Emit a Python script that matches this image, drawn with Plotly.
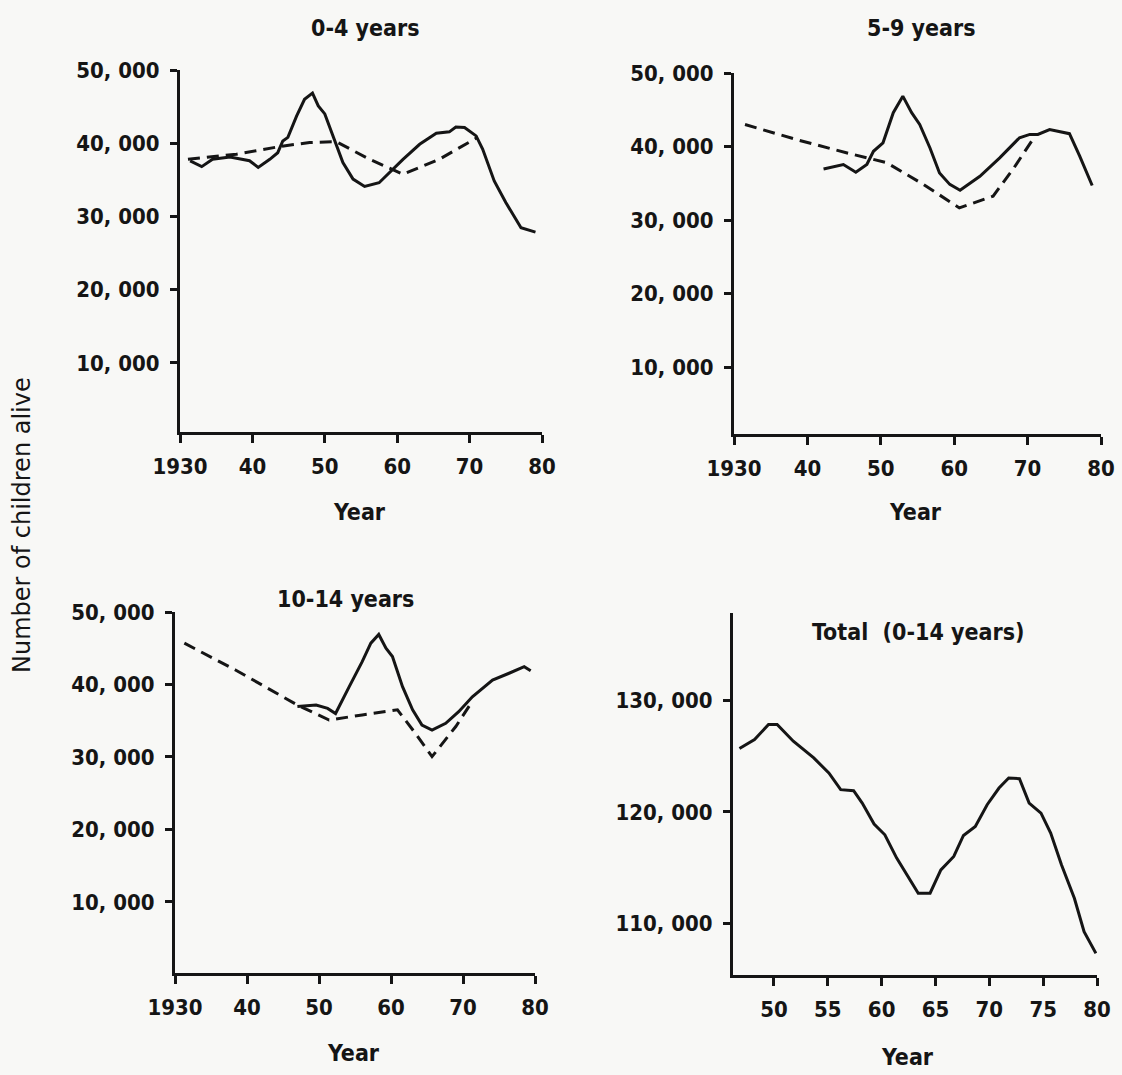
import plotly.graph_objects as go

# ---------------- data ----------------
# Panel 1: 0-4 years
yr_04_solid = [1931.4, 1933.0, 1934.5, 1936.9, 1939.6, 1940.8, 1942.4, 1943.5, 1944.2, 1944.9,
               1946.1, 1947.2, 1948.3, 1949.1, 1950.0, 1951.1, 1952.5, 1953.9, 1955.5, 1957.5,
               1958.9, 1960.8, 1963.1, 1965.4, 1967.2, 1968.1, 1969.3, 1970.9, 1971.8, 1973.4,
               1975.0, 1977.1, 1979.1]
val_04_solid = [37575, 36800, 37800, 38100, 37600, 36700, 37800, 38700, 40300, 40800,
                43700, 46000, 46850, 45100, 44000, 41000, 37350, 35100, 34100, 34600,
                36000, 37800, 39850, 41350, 41550, 42200, 42150, 41000, 39200, 34850,
                31900, 28450, 27850]
yr_04_dash = [1931.1, 1937.8, 1943.8, 1947.9, 1951.6, 1956.2, 1960.8, 1965.8, 1971.1]
val_04_dash = [37800, 38500, 39550, 40100, 40200, 37800, 35750, 37800, 40800]

# Panel 2: 5-9 years
yr_59_solid = [1942.2, 1944.9, 1946.6, 1948.1, 1949.0, 1950.3, 1951.7, 1953.0, 1954.2, 1955.3,
               1956.7, 1958.0, 1959.4, 1960.8, 1963.5, 1966.2, 1968.9, 1970.3, 1971.4, 1973.0,
               1975.7, 1977.1, 1978.8]
val_59_solid = [36950, 37550, 36500, 37550, 39350, 40500, 44600, 46850, 44600, 43000,
                39800, 36400, 34850, 34050, 35950, 38450, 41200, 41650, 41650, 42300,
                41750, 38700, 34700]
yr_59_dash = [1931.5, 1938.5, 1945.3, 1950.8, 1955.8, 1960.7, 1965.3, 1968.0, 1971.0]
val_59_dash = [43000, 40950, 39150, 37800, 34850, 31650, 33250, 36900, 41400]

# Panel 3: 10-14 years
yr_1014_solid = [1947.0, 1949.6, 1951.2, 1952.3, 1954.2, 1956.0, 1957.2, 1958.3, 1959.3, 1960.2,
                 1961.6, 1963.0, 1964.3, 1965.7, 1967.6, 1969.4, 1971.3, 1974.1, 1976.4, 1978.5,
                 1979.4]
val_1014_solid = [36950, 37170, 36700, 36000, 39700, 43150, 45700, 46900, 45000, 43850,
                  39700, 36500, 34400, 33700, 34650, 36250, 38300, 40600, 41550, 42450,
                  41900]
yr_1014_dash = [1931.3, 1938.4, 1947.0, 1951.4, 1956.0, 1960.9, 1963.4, 1965.7, 1969.0, 1971.1]
val_1014_dash = [45700, 42000, 37170, 35100, 35800, 36500, 33250, 30050, 34200, 37400]

# Panel 4: Total (0-14 years)
yr_total = [1946.8, 1948.2, 1949.5, 1950.3, 1951.8, 1953.7, 1955.1, 1956.2, 1957.4, 1958.2,
            1959.3, 1960.3, 1961.4, 1962.5, 1963.4, 1964.5, 1965.5, 1966.7, 1967.6, 1968.7,
            1969.8, 1970.9, 1971.8, 1972.8, 1973.7, 1974.8, 1975.7, 1976.7, 1977.9, 1978.8,
            1979.9]
val_total = [125670, 126470, 127820, 127820, 126320, 124830, 123480, 121990, 121900, 120790,
             118910, 117950, 115860, 114060, 112720, 112720, 114810, 116010, 117890, 118700,
             120640, 122130, 123030, 122970, 120790, 119890, 118100, 115260, 112270, 109280,
             107340]

# tick labels
x_ticks_main = [1930, 1940, 1950, 1960, 1970, 1980]
x_ticktext_main = ["1930", "40", "50", "60", "70", "80"]
y_ticks_main = [10000, 20000, 30000, 40000, 50000]
y_ticktext_main = ["10, 000", "20, 000", "30, 000", "40, 000", "50, 000"]
x_ticks_total = [1950, 1955, 1960, 1965, 1970, 1975, 1980]
x_ticktext_total = ["50", "55", "60", "65", "70", "75", "80"]
y_ticks_total = [110000, 120000, 130000]
y_ticktext_total = ["110, 000", "120, 000", "130, 000"]

panel_titles = ["0-4 years", "5-9 years", "10-14 years", "Total  (0-14 years)"]

# ---------------- layout helpers ----------------
W, H = 1122, 1075
FONT = "DejaVu Sans Condensed, Liberation Sans Narrow, Roboto Condensed, Arial Narrow, sans-serif"
FONT_WIDE = "DejaVu Sans, Liberation Sans, sans-serif"
INK = "#151515"
BG = "#f8f8f6"
WEIGHT = "bold"

def xd(a, b):
    return [a / W, b / W]

def yd(top, bottom):
    return [1 - bottom / H, 1 - top / H]

fig = go.Figure()

line_solid = dict(color=INK, width=3)
line_dash = dict(color=INK, width=3, dash="12px,7px")

traces = [
    (yr_04_solid, val_04_solid, line_solid, "x", "y"),
    (yr_04_dash, val_04_dash, line_dash, "x", "y"),
    (yr_59_solid, val_59_solid, line_solid, "x2", "y2"),
    (yr_59_dash, val_59_dash, line_dash, "x2", "y2"),
    (yr_1014_solid, val_1014_solid, line_solid, "x3", "y3"),
    (yr_1014_dash, val_1014_dash, line_dash, "x3", "y3"),
    (yr_total, val_total, line_solid, "x4", "y4"),
]
for xs, ys, ln, xa, ya in traces:
    fig.add_trace(go.Scatter(x=xs, y=ys, mode="lines", line=ln, xaxis=xa, yaxis=ya,
                             showlegend=False, hoverinfo="skip"))

tickfont = dict(family=FONT, size=22, color=INK, weight=WEIGHT)

def xaxis(domain, rng, tv, tt, anchor):
    return dict(domain=domain, range=rng, anchor=anchor, showgrid=False, zeroline=False,
                showline=True, linecolor=INK, linewidth=3, ticks="outside", ticklen=8,
                tickwidth=3, tickcolor=INK, tickvals=tv, ticktext=tt, tickfont=tickfont,
                ticklabelstandoff=5, fixedrange=True, automargin=False)

def yaxis(domain, rng, tv, tt, anchor):
    return dict(domain=domain, range=rng, anchor=anchor, showgrid=False, zeroline=False,
                showline=True, linecolor=INK, linewidth=3, ticks="outside", ticklen=7,
                tickwidth=2.5, tickcolor=INK, tickvals=tv, ticktext=tt, tickfont=tickfont,
                ticklabelstandoff=6, fixedrange=True, automargin=False)

fig.update_layout(
    template="none",
    width=W, height=H, autosize=False,
    margin=dict(l=0, r=0, t=0, b=0, pad=0),
    paper_bgcolor=BG, plot_bgcolor=BG,
    font=dict(family=FONT, color=INK),
    xaxis=xaxis(xd(180, 542), [1930, 1980], x_ticks_main, x_ticktext_main, "y"),
    yaxis=yaxis(yd(70, 432), [550, 50000], y_ticks_main, y_ticktext_main, "x"),
    xaxis2=xaxis(xd(734, 1101), [1930, 1980], x_ticks_main, x_ticktext_main, "y2"),
    yaxis2=yaxis(yd(73, 434), [900, 50000], y_ticks_main, y_ticktext_main, "x2"),
    xaxis3=xaxis(xd(175, 535), [1930, 1980], x_ticks_main, x_ticktext_main, "y3"),
    yaxis3=yaxis(yd(612, 973), [200, 50000], y_ticks_main, y_ticktext_main, "x3"),
    xaxis4=xaxis(xd(733, 1097), [1946.2, 1980], x_ticks_total, x_ticktext_total, "y4"),
    yaxis4=yaxis(yd(613, 975), [105400, 137800], y_ticks_total, y_ticktext_total, "x4"),
)

def ann(text, px, py, size=23, angle=0, family=FONT, weight=WEIGHT):
    fig.add_annotation(text=text, x=px / W, y=1 - py / H, xref="paper", yref="paper",
                       showarrow=False, xanchor="center", yanchor="middle", textangle=angle,
                       font=dict(family=family, size=size, color=INK, weight=weight))

ann(panel_titles[0], 365, 28)
ann(panel_titles[1], 921, 28)
ann(panel_titles[2], 346, 599)
ann(panel_titles[3], 918, 632)
ann("Year", 359, 512)
ann("Year", 915, 512)
ann("Year", 353, 1053)
ann("Year", 907, 1057)
ann("Number of children alive", 22, 525, size=24, angle=-90, family=FONT_WIDE, weight="normal")

fig.write_html(
    "out.html",
    config={"displayModeBar": False},
    post_script="document.body.style.margin='0';document.body.style.overflow='hidden';",
)
